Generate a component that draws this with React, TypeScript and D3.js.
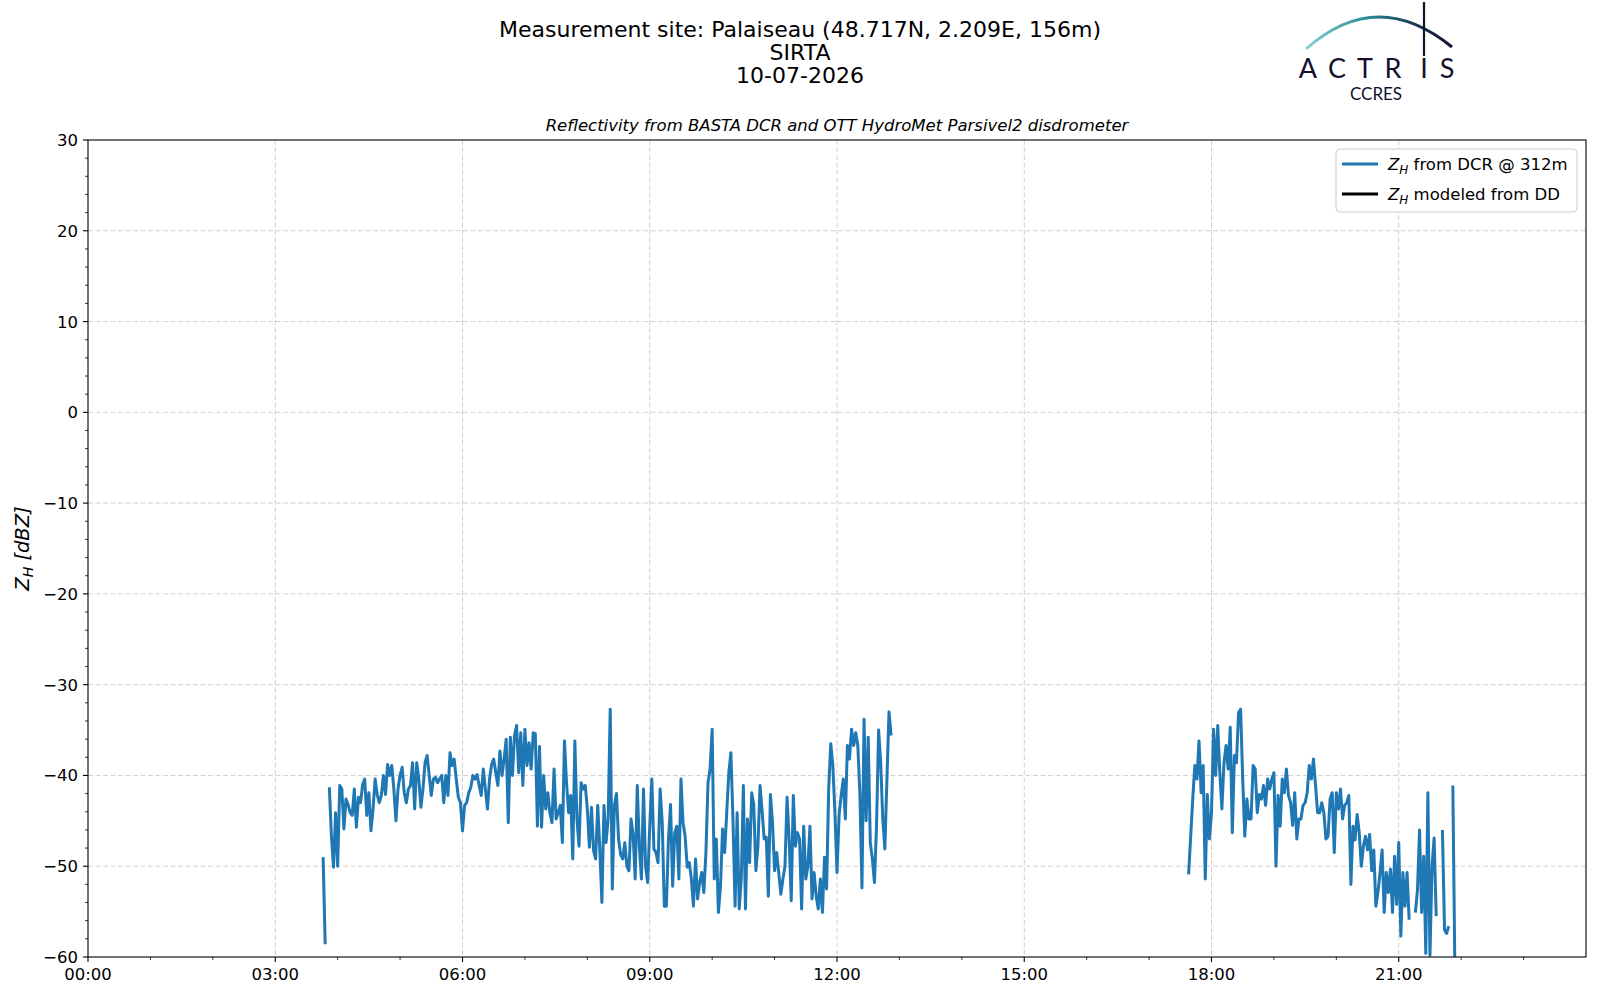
import React from 'react';
import * as d3 from 'd3';

// ---- chart text ----
const titleLines = [
  'Measurement site: Palaiseau (48.717N, 2.209E, 156m)',
  'SIRTA',
  '10-07-2026',
];
const subtitle = 'Reflectivity from BASTA DCR and OTT HydroMet Parsivel2 disdrometer';

// ---- data: Z_H from DCR @ 312m, one value every 2 minutes (null = no data) ----
const stepMinutes = 2;
const dcrStart1 = 226; // minutes after 00:00 (03:46)
const dcrValues1: (number | null)[] = [
  -49.0, -58.6, null, -41.3, -46.7, -50.1, -44.1, -50.0, -41.1, -41.5,
  -45.9, -42.6, -43.2, -44.1, -44.4, -41.5, -45.7, -42.4, -43.0, -41.0,
  -40.4, -44.4, -41.9, -46.1, -43.7, -40.4, -42.1, -43.0, -42.2, -40.0,
  -42.1, -38.8, -40.0, -38.9, -41.5, -45.0, -41.5, -40.0, -39.1, -41.9,
  -43.0, -41.5, -41.1, -38.6, -43.7, -38.6, -40.4, -43.5, -41.5, -38.6,
  -37.8, -40.0, -42.2, -40.4, -40.2, -40.8, -40.4, -40.0, -43.0, -40.0,
  -42.2, -37.5, -38.9, -38.2, -40.4, -42.4, -43.0, -46.1, -43.3, -43.0,
  -41.9, -41.3, -40.0, -40.4, -39.9, -41.1, -42.2, -39.3, -41.5, -43.7,
  -40.4, -38.8, -38.2, -39.7, -41.1, -37.3, -40.0, -38.2, -36.0, -45.2,
  -35.8, -40.0, -35.6, -34.5, -39.7, -35.3, -41.1, -34.9, -38.9, -36.4,
  -39.3, -35.3, -35.4, -45.6, -36.8, -45.7, -40.0, -43.7, -41.9, -44.1,
  -45.2, -39.3, -44.8, -44.1, -43.3, -47.4, -36.2, -40.8, -44.1, -42.2,
  -49.2, -36.2, -44.8, -47.8, -40.8, -41.5, -41.1, -43.7, -47.9, -43.5,
  -48.3, -49.2, -43.3, -48.1, -54.0, -43.3, -47.4, -44.8, -32.7, -52.5,
  -43.3, -42.0, -47.0, -48.7, -49.2, -47.4, -50.0, -50.5, -44.8, -46.5,
  -51.4, -41.1, -47.8, -51.4, -41.5, -50.0, -51.8, -45.6, -40.4, -48.1,
  -48.5, -49.6, -41.5, -45.2, -54.4, -54.4, -47.0, -43.2, -52.2, -46.3,
  -45.6, -51.4, -40.4, -45.2, -46.7, -50.1, -49.6, -51.4, -54.4, -49.2,
  -53.6, -51.8, -50.7, -52.9, -48.5, -40.8, -39.3, -34.9, -51.4, -47.0,
  -55.1, -52.2, -45.9, -48.5, -44.1, -39.7, -37.5, -44.8, -54.4, -44.1,
  -54.7, -51.4, -41.1, -54.7, -44.8, -49.6, -41.9, -43.2, -50.5, -47.8,
  -41.1, -43.9, -47.0, -46.8, -53.3, -42.1, -45.2, -50.5, -48.5, -50.7,
  -53.1, -51.4, -50.0, -42.4, -47.0, -53.8, -42.2, -47.8, -46.3, -47.0,
  -54.7, -45.6, -51.4, -50.0, -45.6, -53.6, -50.7, -53.3, -54.7, -51.4,
  -55.1, -49.0, -52.5, -41.5, -36.5, -38.9, -44.1, -50.7, -44.4, -42.2,
  -40.4, -44.8, -36.7, -38.2, -34.9, -36.7, -35.3, -36.7, -42.0, -52.4,
  -33.8, -45.0, -35.8, -47.4, -49.2, -51.8, -45.6, -35.0, -38.6, -44.8,
  -48.1, -40.4, -33.0, -35.6,
];
const dcrStart2 = 1058; // minutes after 00:00 (17:38)
const dcrValues2: (number | null)[] = [
  -50.9, -46.7, -42.5, -38.9, -40.4, -36.2, -41.9, -38.9, -51.4, -42.1,
  -47.0, -44.1, -34.9, -40.0, -34.5, -39.7, -43.7, -38.6, -36.7, -39.3,
  -34.7, -46.3, -37.8, -38.6, -33.1, -32.7, -40.4, -46.7, -42.6, -44.8,
  -44.8, -38.9, -39.3, -44.1, -42.1, -42.6, -41.1, -43.3, -40.4, -41.5,
  -40.4, -39.7, -50.0, -42.2, -45.6, -40.4, -41.9, -39.3, -42.2, -43.0,
  -45.5, -41.9, -47.0, -44.8, -44.8, -43.3, -43.0, -41.9, -38.9, -40.4,
  -38.2, -41.1, -44.1, -44.1, -43.0, -44.1, -47.0, -46.7, -42.6, -41.9,
  -48.5, -41.9, -43.7, -41.5, -44.8, -43.3, -43.0, -42.2, -52.0, -45.6,
  -47.1, -44.3, -46.3, -50.0, -47.8, -46.7, -48.2, -46.5, -50.5, -48.2,
  -54.4, -52.9, -50.7, -48.2, -55.1, -50.7, -52.9, -50.3, -55.1, -48.9,
  -54.2, -47.4, -57.7, -50.7, -54.4, -50.7, -55.9, null, null, -55.1,
  -52.6, -46.0, -55.1, -48.9, -59.6, -41.9, -59.8, -50.0, -46.9, -55.5,
  null, null, -46.0, -57.0, -57.4, -56.6, null, -41.1, -62.0,
];
// Z_H modeled from the disdrometer: no values on this day
const ddValues: (number | null)[] = [];

const xTickHours = [0, 3, 6, 9, 12, 15, 18, 21];
const xTickLabels = ['00:00', '03:00', '06:00', '09:00', '12:00', '15:00', '18:00', '21:00'];
const yTicks = [-60, -50, -40, -30, -20, -10, 0, 10, 20, 30];

const W = 1600;
const H = 1000;
const left = 88;
const right = 1586;
const top = 140;
const bottom = 957;
const font = 'DejaVu Sans, sans-serif';
const blue = '#1f77b4';
const navy = '#12122e';

type Pt = [number, number | null];

const App: React.FC = () => {
  const x = d3.scaleLinear().domain([0, 24 * 60]).range([left, right]);
  const y = d3.scaleLinear().domain([-60, 30]).range([bottom, top]);

  const line = d3
    .line<Pt>()
    .defined((d) => d[1] !== null)
    .x((d) => x(d[0]))
    .y((d) => y(d[1] as number));

  const seg1: Pt[] = dcrValues1.map((v, i) => [dcrStart1 + i * stepMinutes, v]);
  const seg2: Pt[] = dcrValues2.map((v, i) => [dcrStart2 + i * stepMinutes, v]);
  const dd: Pt[] = ddValues.map((v, i) => [i * stepMinutes, v]);

  const minorX = d3.range(1, 24).filter((h) => h % 3 !== 0);
  const minorY = d3.range(-60, 31, 2).filter((v) => v % 10 !== 0);

  return (
    <svg
      width={W}
      height={H}
      style={{ position: 'absolute', left: 0, top: 0, background: '#fff' }}
      fontFamily={font}
    >
      <defs>
        <clipPath id="plotArea">
          <rect x={left} y={top} width={right - left} height={bottom - top} />
        </clipPath>
        <linearGradient id="arcGrad" x1="0" x2="1" y1="0" y2="0">
          <stop offset="0" stopColor="#86d3cf" />
          <stop offset="0.4" stopColor="#2f8f9a" />
          <stop offset="0.75" stopColor="#1b3550" />
          <stop offset="1" stopColor={navy} />
        </linearGradient>
      </defs>

      {/* titles */}
      {titleLines.map((t, i) => (
        <text key={t} x={800} y={37 + i * 23} textAnchor="middle" fontSize={22}>
          {t}
        </text>
      ))}
      <text x={(left + right) / 2} y={131} textAnchor="middle" fontSize={16.5} fontStyle="italic">
        {subtitle}
      </text>

      {/* logo */}
      <path d="M1306,49 Q1377,-14 1452,47" fill="none" stroke="url(#arcGrad)" strokeWidth={3} />
      <line x1={1424} x2={1424} y1={2} y2={56} stroke={navy} strokeWidth={2.2} />
      <text
        x="1308 1337 1365 1393 1424 1447"
        y={78}
        textAnchor="middle"
        fontSize={27}
        fontFamily="Lato, sans-serif"
        fill={navy}
      >
        ACTRIS
      </text>
      <text x={1376} y={100} textAnchor="middle" fontSize={17} fontFamily="Lato, sans-serif" fill={navy}>
        CCRES
      </text>

      {/* grid */}
      <g stroke="#d0d0d0" strokeWidth={1} strokeDasharray="5,2.5">
        {xTickHours.slice(1).map((h) => (
          <line key={h} x1={x(h * 60)} x2={x(h * 60)} y1={top} y2={bottom} />
        ))}
        {yTicks.slice(1, -1).map((v) => (
          <line key={v} x1={left} x2={right} y1={y(v)} y2={y(v)} />
        ))}
      </g>

      {/* data */}
      <g clipPath="url(#plotArea)" fill="none" strokeLinejoin="round">
        <path d={line(seg1) ?? ''} stroke={blue} strokeWidth={3} />
        <path d={line(seg2) ?? ''} stroke={blue} strokeWidth={3} />
        <path d={line(dd) ?? ''} stroke="#000" strokeWidth={3} />
      </g>

      {/* axes frame */}
      <rect x={left} y={top} width={right - left} height={bottom - top} fill="none" stroke="#000" strokeWidth={1.1} />

      {/* x ticks */}
      <g stroke="#000">
        {xTickHours.map((h) => (
          <line key={h} x1={x(h * 60)} x2={x(h * 60)} y1={bottom} y2={bottom + 5} strokeWidth={1.1} />
        ))}
        {minorX.map((h) => (
          <line key={h} x1={x(h * 60)} x2={x(h * 60)} y1={bottom} y2={bottom + 3} strokeWidth={0.8} />
        ))}
        {yTicks.map((v) => (
          <line key={v} x1={left - 5} x2={left} y1={y(v)} y2={y(v)} strokeWidth={1.1} />
        ))}
        {minorY.map((v) => (
          <line key={v} x1={left - 3} x2={left} y1={y(v)} y2={y(v)} strokeWidth={0.8} />
        ))}
      </g>
      {xTickHours.map((h, i) => (
        <text key={h} x={x(h * 60)} y={bottom + 23} textAnchor="middle" fontSize={16.5}>
          {xTickLabels[i]}
        </text>
      ))}
      {yTicks.map((v) => (
        <text key={v} x={left - 10} y={y(v) + 6} textAnchor="end" fontSize={16.5}>
          {v < 0 ? `\u2212${-v}` : `${v}`}
        </text>
      ))}

      {/* y label */}
      <text
        transform={`translate(29,${(top + bottom) / 2}) rotate(-90)`}
        textAnchor="middle"
        fontSize={19.5}
        fontStyle="italic"
      >
        Z<tspan fontSize={14} dy={4}>H</tspan>
        <tspan dy={-4}> [dBZ]</tspan>
      </text>

      {/* legend */}
      <rect x={1336} y={149} width={241} height={63} rx={4} fill="#fff" stroke="#cccccc" strokeWidth={1} />
      {[
        { label: 'from DCR @ 312m', color: blue, yy: 164 },
        { label: 'modeled from DD', color: '#000', yy: 194 },
      ].map((r) => (
        <g key={r.label}>
          <line x1={1342} x2={1378} y1={r.yy} y2={r.yy} stroke={r.color} strokeWidth={2.8} />
          <text x={1388} y={r.yy + 6} fontSize={16.5}>
            <tspan fontStyle="italic">Z</tspan>
            <tspan fontStyle="italic" fontSize={12} dy={4}>H</tspan>
            <tspan dy={-4}> {r.label}</tspan>
          </text>
        </g>
      ))}
    </svg>
  );
};

export default App;
